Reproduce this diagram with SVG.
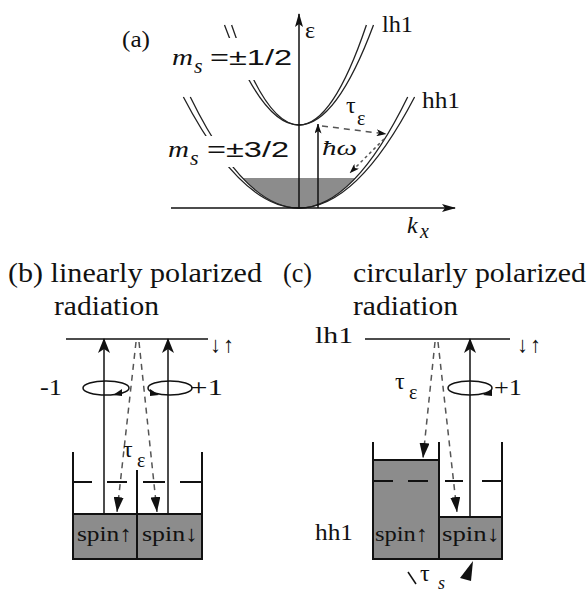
<svg xmlns="http://www.w3.org/2000/svg" width="587" height="594" viewBox="0 0 587 594">
<style>
text{font-family:"Liberation Serif","Times New Roman",serif;fill:#111}
.it{font-style:italic}
.sans{font-family:"Liberation Sans",Arial,sans-serif}
.ln{stroke:#111;stroke-width:1.5;fill:none}
.cv{stroke:#222;stroke-width:1.3;fill:none}
.box{stroke:#111;stroke-width:2;fill:none}
.gray{fill:#8c8c8c;stroke:#111;stroke-width:2}
.dash{stroke:#555;stroke-width:1.5;fill:none;stroke-dasharray:6 5}
.dot{stroke:#555;stroke-width:1.5;fill:none;stroke-dasharray:3 3}
.hd{stroke:#111;stroke-width:2}
.t28{font-size:28px}
.t24{font-size:24px}
.t22{font-size:22px}
.arr{font-size:22px}
</style>
<defs>
<marker id="big" markerUnits="userSpaceOnUse" viewBox="0 0 15 12" refX="14" refY="6" markerWidth="15" markerHeight="12" orient="auto"><path d="M0,0 L15,6 L0,12 L4,6Z" fill="#111"/></marker>
<marker id="med" markerUnits="userSpaceOnUse" viewBox="0 0 14 8" refX="13" refY="4" markerWidth="14" markerHeight="8" orient="auto"><path d="M0,0 L14,4 L0,8 L3,4Z" fill="#111"/></marker>
<marker id="sm" markerUnits="userSpaceOnUse" viewBox="0 0 10 7" refX="9.5" refY="3.5" markerWidth="10" markerHeight="7" orient="auto"><path d="M0,0 L10,3.5 L0,7 L2.5,3.5Z" fill="#111"/></marker>
<marker id="dn" markerUnits="userSpaceOnUse" viewBox="0 0 15 10" refX="15" refY="5" markerWidth="15" markerHeight="10" orient="auto"><path d="M0,0 L15,5 L0,10Z" fill="#111"/></marker>
</defs>
<rect width="587" height="594" fill="#fff"/>

<g id="panel-a">
  <path d="M242.5,178 Q299,238 355.5,178 Z" fill="#8c8c8c"/>
  <path class="cv" d="M231.6,25 Q299,225 366.4,25"/>
  <path class="cv" d="M224.5,25 Q299,225 373.5,25"/>
  <path class="cv" d="M190.3,97 Q299,319 407.7,97"/>
  <path class="cv" d="M183.4,97 Q299,319 414.6,97"/>
  <rect x="166" y="38" width="129" height="42" fill="#fff"/>
  <rect x="163" y="136" width="132" height="31" fill="#fff"/>
  <g id="connectors-a">
    <path class="ln" d="M299,208 L299,14" marker-end="url(#med)"/>
    <path class="ln" d="M171,208 L455,208" marker-end="url(#med)"/>
    <path class="ln" d="M318,208 L318,124" marker-end="url(#sm)"/>
    <path class="dash" d="M322,126 L386,134" marker-end="url(#sm)"/>
    <path class="dot" d="M384,139 L350,173" marker-end="url(#sm)"/>
  </g>
  <text class="t24" x="122" y="47" textLength="28" lengthAdjust="spacingAndGlyphs">(a)</text>
  <text class="t24" x="305" y="38">ε</text>
  <text class="t24" x="382" y="32" textLength="31" lengthAdjust="spacingAndGlyphs">lh1</text>
  <text class="t24" x="422" y="108" textLength="38" lengthAdjust="spacingAndGlyphs">hh1</text>
  <text class="t24 it" x="172" y="65" textLength="21" lengthAdjust="spacingAndGlyphs">m</text>
  <text class="t22 it" x="194" y="73">s</text>
  <text class="t22 sans" x="210" y="65" textLength="82" lengthAdjust="spacingAndGlyphs">=±1/2</text>
  <text class="t24 it" x="168" y="157" textLength="21" lengthAdjust="spacingAndGlyphs">m</text>
  <text class="t22 it" x="190" y="165">s</text>
  <text class="t22 sans" x="207" y="157" textLength="82" lengthAdjust="spacingAndGlyphs">=±3/2</text>
  <text class="t24 it" x="407" y="233">k</text>
  <text class="it" font-size="20" x="420" y="238">x</text>
  <text class="t22 it" x="322" y="155" textLength="35" lengthAdjust="spacingAndGlyphs">ħω</text>
  <text class="t24" x="346" y="113">τ</text>
  <text font-size="20" x="357" y="125">ε</text>
</g>

<g id="panel-b">
  <text class="t28" x="8" y="282" textLength="254" lengthAdjust="spacingAndGlyphs">(b) linearly polarized</text>
  <text class="t28" x="54" y="315" textLength="105" lengthAdjust="spacingAndGlyphs">radiation</text>
  <path class="ln" d="M66,339 H208"/>
  <text class="arr" x="210" y="352">↓</text>
  <text class="arr" x="223" y="352">↑</text>
  <g id="connectors-b">
    <path class="ln" d="M104,514 V339" marker-end="url(#big)"/>
    <path class="ln" d="M168,514 V339" marker-end="url(#big)"/>
    <path class="dash" d="M136,342 L117,512" marker-end="url(#dn)"/>
    <path class="dash" d="M139,342 L157,512" marker-end="url(#dn)"/>
  </g>
  <ellipse class="ln" cx="106" cy="388" rx="23" ry="7"/>
  <polygon points="113,395 122,389 122,396" fill="#111"/>
  <ellipse class="ln" cx="170" cy="388" rx="22" ry="7"/>
  <polygon points="159,395 150,389 150,396" fill="#111"/>
  <text class="t24" x="40" y="395" textLength="22" lengthAdjust="spacingAndGlyphs">-1</text>
  <text class="t24" x="190" y="395" textLength="33" lengthAdjust="spacingAndGlyphs">+1</text>
  <text class="t24" x="123" y="457">τ</text>
  <text font-size="20" x="137" y="467">ε</text>
  <rect class="gray" x="73" y="514" width="64" height="45"/>
  <rect class="gray" x="137" y="514" width="65" height="45"/>
  <path class="box" d="M73,452 V559 H202 V452 M137,470 V559"/>
  <path class="hd" d="M73,482 H92 M107,482 H127 M143,482 H165 M180,482 H202"/>
  <text class="t22" x="77" y="541" textLength="55" lengthAdjust="spacingAndGlyphs">spin↑</text>
  <text class="t22" x="142" y="541" textLength="56" lengthAdjust="spacingAndGlyphs">spin↓</text>
</g>

<g id="panel-c">
  <text class="t28" x="283" y="282" textLength="29" lengthAdjust="spacingAndGlyphs">(c)</text>
  <text class="t28" x="353" y="282" textLength="233" lengthAdjust="spacingAndGlyphs">circularly polarized</text>
  <text class="t28" x="353" y="315" textLength="105" lengthAdjust="spacingAndGlyphs">radiation</text>
  <text class="t24" x="315" y="343" textLength="38" lengthAdjust="spacingAndGlyphs">lh1</text>
  <text class="t24" x="315" y="540" textLength="38" lengthAdjust="spacingAndGlyphs">hh1</text>
  <path class="ln" d="M365,339 H510"/>
  <text class="arr" x="517" y="352">↓</text>
  <text class="arr" x="530" y="352">↑</text>
  <rect class="gray" x="373" y="460" width="66" height="99"/>
  <rect class="gray" x="439" y="517" width="63" height="42"/>
  <path class="box" d="M373,442 V559 H502 V442 M439,442 V559"/>
  <path class="hd" d="M373,481 H393 M408,481 H428 M445,481 H463 M482,481 H502"/>
  <g id="connectors-c">
    <path class="ln" d="M470,517 V339" marker-end="url(#big)"/>
    <path class="dash" d="M435,342 L423,458" marker-end="url(#dn)"/>
    <path class="dash" d="M438,342 L457,512" marker-end="url(#dn)"/>
  </g>
  <ellipse class="ln" cx="470" cy="388" rx="22" ry="7"/>
  <polygon points="483,395 492,389 492,396" fill="#111"/>
  <text class="t24" x="494" y="395" textLength="28" lengthAdjust="spacingAndGlyphs">+1</text>
  <text class="t24" x="395" y="389">τ</text>
  <text font-size="20" x="409" y="399">ε</text>
  <text class="t22" x="375" y="541" textLength="53" lengthAdjust="spacingAndGlyphs">spin↑</text>
  <text class="t22" x="442" y="541" textLength="58" lengthAdjust="spacingAndGlyphs">spin↓</text>
  <path class="ln" d="M408,572 L416,584"/>
  <text class="t24" x="420" y="581">τ</text>
  <text class="it" font-size="18" x="438" y="589">s</text>
  <polygon points="473,561 460,578 471,581" fill="#111"/>
</g>
</svg>
